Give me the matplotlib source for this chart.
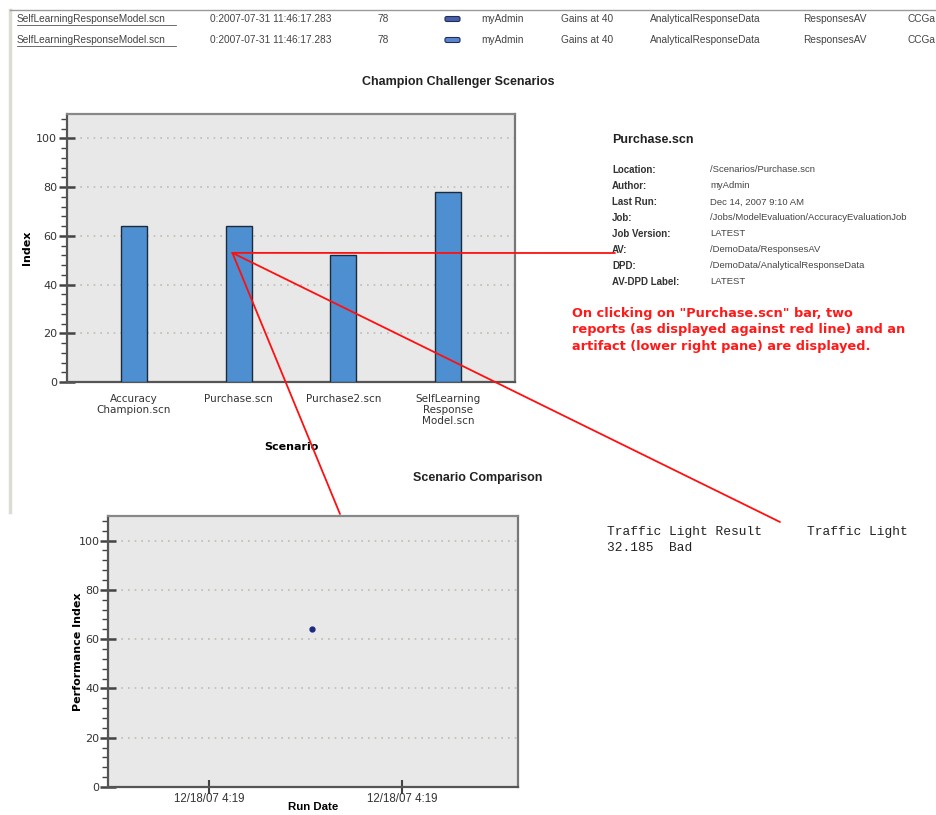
import matplotlib
matplotlib.use("Agg")
import matplotlib.pyplot as plt
from matplotlib.lines import Line2D
from matplotlib.patches import FancyBboxPatch, ConnectionPatch
from matplotlib.ticker import MultipleLocator, FixedLocator, FuncFormatter
import matplotlib.dates as mdates
from datetime import datetime

# ---------------- data ----------------
scenarios = ["Accuracy\nChampion.scn", "Purchase.scn", "Purchase2.scn",
             "SelfLearning\nResponse\nModel.scn"]
index_values = [64, 64, 52, 78]

run_dates = [datetime(2007, 12, 18, 4, 19, 31)]
performance_index = [64]
run_date_ticks = [datetime(2007, 12, 18, 4, 19, 15), datetime(2007, 12, 18, 4, 19, 45)]

table_rows = [
    ["SelfLearningResponseModel.scn", "0:2007-07-31 11:46:17.283", "78", "", "myAdmin",
     "Gains at 40", "AnalyticalResponseData", "ResponsesAV", "CCGa"],
    ["SelfLearningResponseModel.scn", "0:2007-07-31 11:46:17.283", "78", "", "myAdmin",
     "Gains at 40", "AnalyticalResponseData", "ResponsesAV", "CCGa"],
]
detail_title = "Purchase.scn"
detail_keys = ["Location:", "Author:", "Last Run:", "Job:", "Job Version:", "AV:", "DPD:", "AV-DPD Label:"]
detail_vals = ["/Scenarios/Purchase.scn", "myAdmin", "Dec 14, 2007 9:10 AM",
               "/Jobs/ModelEvaluation/AccuracyEvaluationJob", "LATEST",
               "/DemoData/ResponsesAV", "/DemoData/AnalyticalResponseData", "LATEST"]
note_text = ('On clicking on "Purchase.scn" bar, two\n'
             'reports (as displayed against red line) and an\n'
             'artifact (lower right pane) are displayed.')
traffic_header = ["Traffic Light Result", "Traffic Light"]
traffic_row = "32.185  Bad"

# ---------------- figure ----------------
W, H = 937, 815
fig = plt.figure(figsize=(W / 100, H / 100), dpi=100)
fig.patch.set_facecolor("white")


def fx(x):
    return x / W


def fy(y):
    return 1 - y / H


def ftext(x, y, s, **kw):
    fig.text(fx(x), fy(y), s, **kw)


# page borders
fig.add_artist(Line2D([fx(10), fx(10)], [fy(10), fy(512)], color="#dcdcd4", lw=2.5))
fig.add_artist(Line2D([fx(10), fx(937)], [fy(10), fy(10)], color="#9a9a9a", lw=1))

# top table
col_x = [17, 210, 378, 445, 481, 561, 650, 803, 908]
row_y = [19, 40]
icon_cols = ["#4a5fa8", "#5b86cf"]
for r, (row, y) in enumerate(zip(table_rows, row_y)):
    for c, (x, s) in enumerate(zip(col_x, row)):
        if c == 3:
            fig.add_artist(FancyBboxPatch((fx(445), fy(y + 2.5)), fx(15), 5 / H,
                                          boxstyle="round,pad=0,rounding_size=0.002",
                                          facecolor=icon_cols[r], edgecolor="#1f2d5a", lw=0.8))
            continue
        ftext(x, y, s, fontsize=7.3, family="Liberation Sans", color="#444444",
              va="center", ha="left")
    fig.add_artist(Line2D([fx(17), fx(176)], [fy(y + 6), fy(y + 6)], color="#555555", lw=0.6))


def style_axes(ax):
    ax.set_facecolor("#e8e8e8")
    for s in ax.spines.values():
        s.set_color("#555555")
        s.set_linewidth(1.6)
    ax.spines["top"].set_color("#888888")
    ax.spines["right"].set_color("#777777")
    ax.set_ylim(0, 110)
    ax.yaxis.set_major_locator(MultipleLocator(20))
    ax.yaxis.set_minor_locator(MultipleLocator(4))
    ax.grid(axis="y", which="major", linestyle=(0, (1, 3)), color="#bdbdaf", lw=1.2)
    ax.set_axisbelow(True)
    ax.tick_params(axis="y", which="major", direction="inout", length=12, width=1.8,
                   color="#444444", labelsize=8, labelcolor="#333333", pad=1)
    ax.tick_params(axis="y", which="minor", direction="out", length=4, width=1,
                   color="#444444")


# ---------------- top chart ----------------
ax1 = fig.add_axes([fx(67), fy(382), (515 - 67) / W, (382 - 114) / H])
style_axes(ax1)
xpos = list(range(len(scenarios)))
ax1.bar(xpos, index_values, width=0.25, color="#4d8fd1", edgecolor="#1c2b3a", lw=1.0, zorder=3)
ax1.set_xlim(-0.64, 3.64)
ax1.set_xticks(xpos)
ax1.set_xticklabels(scenarios, fontsize=7.5, color="#333333", family="DejaVu Sans",
                    linespacing=1.08, va="top")
ax1.tick_params(axis="x", length=0, pad=9)
ax1.set_ylabel("Index", fontsize=8, fontweight="bold", labelpad=3)
ax1.set_xlabel("Scenario", fontsize=8, fontweight="bold", labelpad=12)
ftext(458, 82, "Champion Challenger Scenarios", fontsize=9, fontweight="bold",
      family="Liberation Sans", ha="center", va="center", color="#222222")

# ---------------- bottom chart ----------------
ax2 = fig.add_axes([fx(108), fy(787), (518 - 108) / W, (787 - 516) / H])
style_axes(ax2)
ax2.tick_params(axis="y", which="major", pad=0)
ax2.plot(run_dates, performance_index, "o", color="#1b2a80", ms=3.5, zorder=4)
span = (run_date_ticks[1] - run_date_ticks[0])
ax2.set_xlim(run_date_ticks[0] - span * 0.523, run_date_ticks[1] + span * 0.60)
ax2.xaxis.set_major_locator(FixedLocator([mdates.date2num(d) for d in run_date_ticks]))
ax2.xaxis.set_major_formatter(FuncFormatter(
    lambda v, p: (lambda d: f"{d.month}/{d.day}/{d:%y} {d.hour}:{d:%M}")(mdates.num2date(v))))
ax2.tick_params(axis="x", direction="inout", length=10, width=1.5, color="#444444",
                labelsize=8.3, labelcolor="#333333", pad=-1)
for t in ax2.get_xticklabels():
    t.set_family("Liberation Sans")
ax2.set_ylabel("Performance Index", fontsize=8, fontweight="bold", labelpad=-3)
ax2.set_xlabel("Run Date", fontsize=8.2, fontweight="bold", family="Liberation Sans", labelpad=-2)
ftext(478, 478, "Scenario Comparison", fontsize=9, fontweight="bold",
      family="Liberation Sans", ha="center", va="center", color="#222222")

# ---------------- details panel ----------------
ftext(612, 140, detail_title, fontsize=9, fontweight="bold", family="Liberation Sans",
      va="center", color="#222222")
for i, (k, v) in enumerate(zip(detail_keys, detail_vals)):
    y = 170 + i * 16
    ftext(612, y, k, fontsize=7, fontweight="bold", family="Liberation Sans",
          va="center", color="#333333")
    ftext(710, y, v, fontsize=6.8, family="Liberation Sans", va="center", color="#444444")

ftext(572, 330, note_text, fontsize=9.3, fontweight="bold", family="DejaVu Sans",
      color="#ff1a1a", va="center", ha="left", linespacing=1.35)

ftext(607, 532, traffic_header[0], fontsize=9.3, family="Liberation Mono", va="center", color="#222222")
ftext(807, 532, traffic_header[1], fontsize=9.3, family="Liberation Mono", va="center", color="#222222")
ftext(607, 548, traffic_row, fontsize=9.3, family="Liberation Mono", va="center", color="#222222")

# ---------------- red annotation lines ----------------
origin = (0.94, 53)  # on the Purchase.scn bar
for end in [(615, 253), (340, 514), (780, 522)]:
    cp = ConnectionPatch(xyA=origin, coordsA=ax1.transData,
                         xyB=(fx(end[0]), fy(end[1])), coordsB=fig.transFigure,
                         color="#ff1010", lw=1.3, zorder=10)
    fig.add_artist(cp)

fig.savefig("out.png", dpi=100)
